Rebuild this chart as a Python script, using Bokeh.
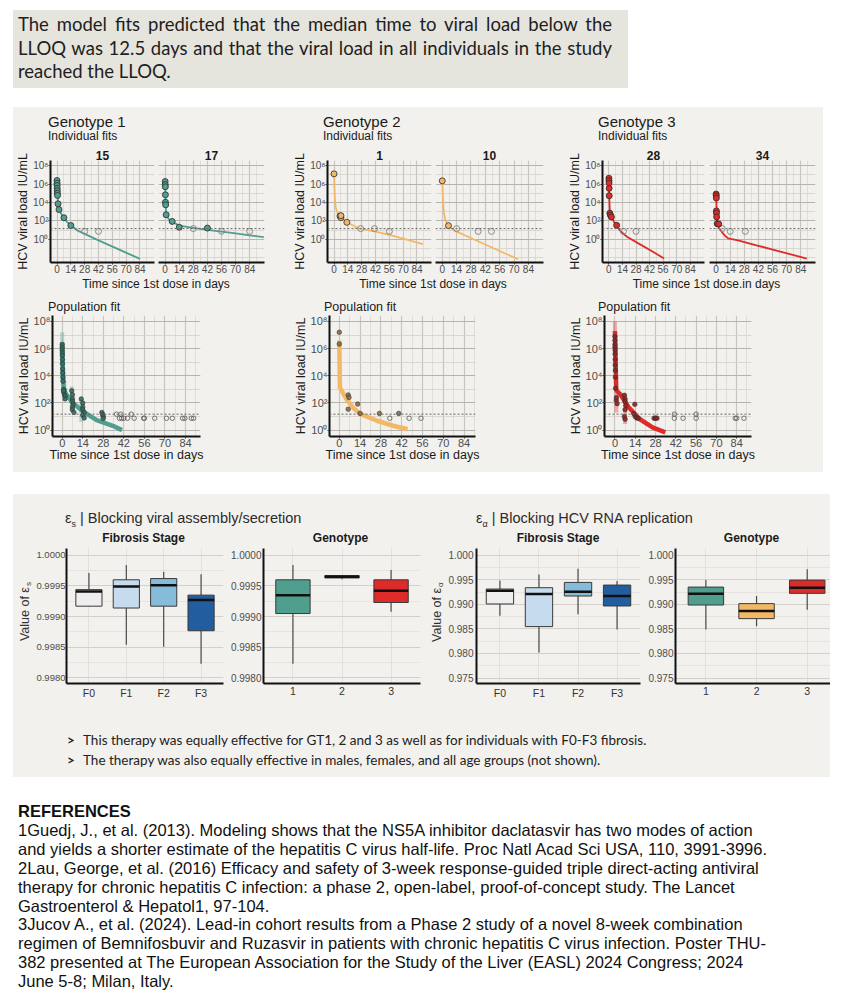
import math
from bokeh.plotting import figure
from bokeh.layouts import row, column
from bokeh.models import (Range1d, FixedTicker, CustomJSTickFormatter, PrintfTickFormatter,
                          Span, Div, Spacer, Label, Title)
from bokeh.embed import file_html
from bokeh.resources import INLINE

# ------------------------------------------------------------------ data
day_ticks = [0, 14, 28, 42, 56, 70, 84]
day_minor = [7, 21, 35, 49, 63, 77, 91]
vl_ticks = [1, 1e2, 1e4, 1e6, 1e8]
vl_minor = [1e-2, 1e-1, 10, 1e3, 1e5, 1e7]
lloq = 15

# Genotype 1, subject 15
g1_s15_obs_day = [0, 0.04, 0.08, 0.17, 0.25, 0.33, 0.5, 1, 2, 7, 14]
g1_s15_obs_vl = [2.4e6, 1.23e6, 6.9e5, 3.5e5, 1.86e5, 1.0e5, 5.8e4, 7.2e3, 1.74e3, 224, 32]
g1_s15_bql_day = [28, 42]
g1_s15_bql_vl = [7.5, 7.5]
g1_s15_fit_day = [0, 0.5, 1, 2, 4, 7, 10, 14, 21, 42, 63, 84]
g1_s15_fit_vl = [3.2e6, 1.0e5, 7.9e3, 2.0e3, 630, 200, 79, 35, 8.9, 0.79, 0.079, 0.0079]
# Genotype 1, subject 17
g1_s17_obs_day = [0, 0.08, 0.17, 0.25, 0.33, 0.5, 1, 7, 14, 42]
g1_s17_obs_vl = [1.86e6, 8.9e5, 5.0e5, 6.8e4, 1.07e4, 5.6e3, 470, 89, 21, 17]
g1_s17_bql_day = [28, 56, 84]
g1_s17_bql_vl = [15, 7.5, 7.5]
g1_s17_fit_day = [0, 0.25, 0.5, 1, 2, 4, 7, 14, 28, 42, 56, 70, 84, 98]
g1_s17_fit_vl = [2.5e6, 7.9e4, 6.3e3, 630, 282, 141, 79, 32, 18, 11, 7.1, 4.5, 2.8, 1.8]
# Genotype 2, subject 1
g2_s1_obs_day = [0, 6, 7, 7, 13]
g2_s1_obs_vl = [1.26e7, 347, 229, 372, 71]
g2_s1_bql_day = [27, 41, 56]
g2_s1_bql_vl = [15, 15, 7.5]
g2_s1_fit_day = [0, 0.5, 1, 1.6, 3, 6, 10, 14, 25, 42, 56, 70, 90]
g2_s1_fit_vl = [1.6e7, 3.2e5, 1.6e4, 3.5e3, 1.0e3, 400, 141, 63, 16, 7.1, 3.2, 1.26, 0.32]
# Genotype 2, subject 10
g2_s10_obs_day = [0, 6]
g2_s10_obs_vl = [2.2e6, 31]
g2_s10_bql_day = [14, 35, 48]
g2_s10_bql_vl = [15, 7.5, 7.5]
g2_s10_fit_day = [0, 0.5, 1, 1.6, 3, 5.7, 8, 12, 30, 50, 74]
g2_s10_fit_vl = [2.8e6, 1.0e5, 5.0e3, 794, 126, 36, 18, 8.9, 1.12, 0.112, 0.0071]
# Genotype 3, subject 28
g3_s28_obs_day = [0, 0.08, 0.17, 0.25, 0.33, 1, 1.6, 2.6, 8]
g3_s28_obs_vl = [4.2e6, 2.3e6, 1.29e6, 3.4e5, 5.4e4, 690, 417, 275, 34]
g3_s28_bql_day = [15, 28]
g3_s28_bql_vl = [7.5, 7.5]
g3_s28_fit_day = [0, 0.3, 0.6, 1, 2.5, 5, 8, 12.8, 19, 30, 45, 57]
g3_s28_fit_vl = [5.0e6, 2.5e5, 1.0e4, 1.0e3, 316, 89, 28, 6.3, 1.86, 0.4, 0.05, 0.0085]
# Genotype 3, subject 34
g3_s34_obs_day = [0, 0.08, 0.17, 0.25, 0.33, 0.5, 1, 2.6]
g3_s34_obs_vl = [8.1e4, 5.4e4, 3.0e4, 1230, 690, 275, 51, 47]
g3_s34_bql_day = [6, 14, 29]
g3_s34_bql_vl = [15, 7.5, 7.5]
g3_s34_fit_day = [0, 0.3, 0.6, 1, 3, 5.7, 9, 12, 21.7, 40, 60, 90]
g3_s34_fit_vl = [1.0e5, 6.3e3, 400, 56, 16, 6.3, 2.4, 1.29, 0.78, 0.23, 0.063, 0.0085]

# Population fits
g1_pop_obs_day = [0, 0, 0, 0.1, 0.1, 0.2, 0.2, 0.3, 0.4, 0.5, 0.6, 1, 1, 1.5, 2, 2, 1,
                  6.5, 7, 7, 7, 7.5, 7, 7, 8, 13, 14, 14, 14, 15, 14, 15, 27, 27.5, 28, 28]
g1_pop_obs_vl = [2.0e6, 1.26e6, 7.9e5, 5.0e5, 3.2e5, 1.6e5, 7.9e4, 3.2e4, 1.6e4, 7.9e3, 4.0e3,
                 1000, 630, 400, 316, 200, 794, 794, 400, 200, 126, 79, 50, 32, 20,
                 200, 100, 50, 32, 20, 12.6, 7.9, 20, 14, 10, 7.2]
g1_pop_bql_day = [37, 40, 47, 39, 40.5, 42, 44.5, 49, 55.5, 56, 63, 71, 75, 82, 83.5, 88, 89.5]
g1_pop_bql_vl = [15, 15, 15, 7.5, 7.5, 7.5, 7.5, 7.5, 7.5, 7.5, 7.5, 7.5, 7.5, 7.5, 7.5, 7.5, 7.5]
g1_pop_band_day = [0, 1.5, 6.5, 13, 27.5]
g1_pop_band_lo = [4.0e3, 160, 25, 4, 6.3]
g1_pop_band_hi = [1.6e7, 4.0e3, 1.6e3, 200, 25]
g1_pop_fit_day = [0, 0.44, 0.9, 2.6, 7, 13.6, 23.5, 34.5, 40.7]
g1_pop_fit_vl = [2.95e6, 2.4e4, 1.41e3, 447, 110, 26, 5.4, 2.1, 1.0]

g2_pop_obs_day = [0, 0, 6, 6.5, 6, 12.4, 14, 27, 40]
g2_pop_obs_vl = [1.6e7, 2.2e6, 390, 257, 35, 83, 17, 17, 17]
g2_pop_bql_day = [34, 47, 55]
g2_pop_bql_vl = [7.5, 7.5, 7.5]
g2_pop_fit_day = [0, 0.4, 4.8, 9.1, 14.5, 25.4, 36.2, 46]
g2_pop_fit_vl = [4.0e6, 1.41e3, 195, 47, 15, 4.9, 2.1, 1.17]

g3_pop_obs_day = [0, 0, 0, 0, 0.1, 0.1, 0.2, 0.2, 0.3, 0.3, 0.4, 0.9, 1.5, 1,
                  6.5, 7, 7, 7.5, 7, 6.5, 7, 13.7, 13, 14, 15, 16, 27, 28, 29]
g3_pop_obs_vl = [7.9e6, 4.0e6, 2.0e6, 1.26e6, 7.9e5, 4.0e5, 1.6e5, 6.3e4, 2.5e4, 7.9e3,
                 1.2e3, 160, 89, 250, 370, 200, 126, 63, 32, 10, 6.3, 79, 16, 10, 7.9, 7.5,
                 7.5, 7.5, 7.5]
g3_pop_bql_day = [41, 41, 47, 56, 56, 83, 84, 89]
g3_pop_bql_vl = [15, 7.5, 7.5, 15, 7.5, 7.5, 7.5, 7.5]
g3_pop_band_day = [0, 1, 7, 28]
g3_pop_band_lo = [2.0e4, 20, 2.8, 5]
g3_pop_band_hi = [1.0e8, 630, 500, 12.6]
g3_pop_fit_day = [0, 0.9, 3.8, 9.3, 17, 25.9, 34.7]
g3_pop_fit_vl = [2.0e7, 870, 417, 50, 6.6, 1.58, 0.68]

# Box plots
fib_stages = ["F0", "F1", "F2", "F3"]
genotypes = ["1", "2", "3"]
es_ticks = [0.998, 0.9985, 0.999, 0.9995, 1.0]
es_minor = [0.99825, 0.99875, 0.99925, 0.99975]
ea_ticks = [0.975, 0.98, 0.985, 0.99, 0.995, 1.0]
ea_minor = [0.9775, 0.9825, 0.9875, 0.9925, 0.9975]

es_fib_low = [0.99917, 0.99854, 0.99851, 0.99823]
es_fib_q1 = [0.99917, 0.99914, 0.99917, 0.99877]
es_fib_med = [0.99941, 0.99949, 0.99951, 0.99927]
es_fib_q3 = [0.99944, 0.99960, 0.99962, 0.99935]
es_fib_high = [0.99971, 0.99984, 0.99973, 0.99969]

es_gt_low = [0.99823, 0.99961, 0.99908]
es_gt_q1 = [0.99905, 0.99963, 0.99923]
es_gt_med = [0.99935, 0.99965, 0.99942]
es_gt_q3 = [0.99960, 0.99967, 0.99960]
es_gt_high = [0.99984, 0.99968, 0.99976]

ea_fib_low = [0.98770, 0.98020, 0.98797, 0.98486]
ea_fib_q1 = [0.99007, 0.98547, 0.99169, 0.98966]
ea_fib_med = [0.99277, 0.99209, 0.99257, 0.99169]
ea_fib_q3 = [0.99311, 0.99338, 0.99446, 0.99392]
ea_fib_high = [0.99486, 0.99608, 0.99723, 0.99473]

ea_gt_low = [0.98486, 0.98554, 0.98892]
ea_gt_q1 = [0.98986, 0.98709, 0.99223]
ea_gt_med = [0.99216, 0.98865, 0.99338]
ea_gt_q3 = [0.99351, 0.99014, 0.99493]
ea_gt_high = [0.99493, 0.99169, 0.99716]

fib_colors = ["#eeeeee", "#c6dbee", "#84bcda", "#225e9f"]
gt_colors = ["#4f9e8e", "#f2b866", "#dd2b29"]

# ------------------------------------------------------------------ style
PANEL = "#f2f1ed"
TOPBOX = "#e5e4dd"
FONT = "Liberation Sans"
TEAL, ORANGE, RED = "#4f9e8f", "#f2b866", "#dd2b29"
DARK = {TEAL: "#2f6c61", ORANGE: "#8a6a48", RED: "#8c2222"}
IND_X = (-6.6, 98.7)
IND_Y = (3.2e-3, 3.5e8)

LOG_CODE = """
const sup = {"0":"\u2070","1":"\u00b9","2":"\u00b2","3":"\u00b3","4":"\u2074","5":"\u2075",
             "6":"\u2076","7":"\u2077","8":"\u2078","9":"\u2079","-":"\u207b"};
const e = Math.round(Math.log10(tick));
return "10" + String(e).split("").map(c => sup[c]).join("");
"""


def style_axes(p, tick_px):
    for ax in p.axis:
        ax.axis_line_width = 2
        ax.axis_line_color = "#111111"
        ax.major_tick_out = 2
        ax.major_tick_in = 0
        ax.major_tick_line_color = "#333333"
        ax.minor_tick_out = 0
        ax.minor_tick_in = 0
        ax.major_label_text_font = FONT
        ax.major_label_text_font_size = tick_px
        ax.major_label_text_color = "#4d4d4d"
        ax.major_label_standoff = 0
        ax.axis_label_text_font = FONT
        ax.axis_label_text_font_size = "12.5px"
        ax.axis_label_text_font_style = "normal"
        ax.axis_label_text_color = "#1a1a1a"
        ax.axis_label_standoff = 0


def vl_fig(w, h, mbl, mbr, mbt, mbb, xr, yr, show_y, tick_px):
    p = figure(width=w, height=h, title=None, x_range=Range1d(*xr), y_range=Range1d(*yr),
               y_axis_type="log", y_axis_location="left" if show_y else None,
               output_backend="svg", toolbar_location=None,
               min_border_left=mbl, min_border_right=mbr, min_border_top=mbt, min_border_bottom=mbb,
               background_fill_color=PANEL, border_fill_color=PANEL, outline_line_color=None)
    p.xaxis.ticker = FixedTicker(ticks=day_ticks)
    p.xgrid.ticker = FixedTicker(ticks=day_ticks, minor_ticks=day_minor)
    p.ygrid.ticker = FixedTicker(ticks=vl_ticks, minor_ticks=vl_minor)
    p.xgrid.grid_line_color = "#c9c6c1"
    p.xgrid.grid_line_width = 1.2
    p.xgrid.minor_grid_line_color = "#dcd9d4"
    p.xgrid.minor_grid_line_width = 0.8
    p.ygrid.grid_line_color = "#b7b4af"
    p.ygrid.grid_line_width = 1.2
    p.ygrid.minor_grid_line_color = "#d3d0cb"
    p.ygrid.minor_grid_line_width = 0.8
    if show_y:
        p.yaxis.ticker = FixedTicker(ticks=vl_ticks)
        p.yaxis.formatter = CustomJSTickFormatter(code=LOG_CODE)
        p.yaxis.axis_label = "HCV viral load IU/mL"
    style_axes(p, tick_px)
    p.add_layout(Span(location=lloq, dimension="width", line_color="#666666",
                      line_dash="2 2", line_width=1))
    return p


def strip_title(p, text):
    p.add_layout(Title(text=text, align="center", text_font=FONT, text_font_size="12px",
                       text_font_style="bold", text_color="#1a1a1a", standoff=2, offset=0),
                 "above")


def draw_subject(p, color, obs_d, obs_v, bql_d, bql_v, fit_d, fit_v):
    p.line(fit_d, fit_v, line_color=color, line_width=1.8)
    p.scatter(bql_d, bql_v, size=6, fill_color=None, line_color="#8c8c8c", line_width=1)
    p.scatter(obs_d, obs_v, size=6, fill_color=color, line_color="#2a2a2a", line_width=0.8)


def draw_pop(p, color, obs_d, obs_v, bql_d, bql_v, fit_d, fit_v, band=None):
    if band is not None:
        bd, blo, bhi = band
        p.segment(bd, blo, bd, bhi, line_color=color, line_width=4, line_alpha=0.35)
    p.line(fit_d, fit_v, line_color=color, line_width=4.5)
    p.scatter(bql_d, bql_v, size=4.5, fill_color=None, line_color="#555555", line_width=0.8)
    p.scatter(obs_d, obs_v, size=4.5, fill_color=DARK[color], line_color="#333333",
              line_width=0.6, fill_alpha=0.9)


def div(html, w, h, bg=None):
    styles = {"background-color": bg} if bg else {}
    return Div(text=html, width=w, height=h, margin=0, styles=styles)


def sp(w=0, h=0):
    return Spacer(width=w, height=h, margin=0)


FF = "font-family:'Liberation Sans'; color:#1a1a1a; white-space:nowrap;"


def genotype_group(gw, mbl, fw, gap, title, labels, color, subjects, xtitle,
                   pop_fw, pop_mbl, pop_xr, pop, band=None):
    rest = gw - mbl - 2 * fw - gap
    head = div(f'<div style="{FF} padding:7px 0 0 {mbl}px;">'
               f'<div style="font-size:15px; line-height:16px;">{title}</div>'
               f'<div style="font-size:12px; line-height:13px;">Individual fits</div></div>',
               gw, 37)
    left = vl_fig(mbl + fw + 2, 132, mbl, 2, 16, 14, IND_X, IND_Y, True, "10px")
    right = vl_fig(gap - 2 + fw + rest, 132, gap - 2, rest, 16, 14, IND_X, IND_Y, False, "10px")
    strip_title(left, labels[0])
    strip_title(right, labels[1])
    draw_subject(left, color, *subjects[0])
    draw_subject(right, color, *subjects[1])
    span_w = 2 * fw + gap
    xt_css = f'{FF} font-size:12px; line-height:10px; text-align:center; width:{span_w}px;'
    xt = row(sp(mbl, 14), div(f'<div style="{xt_css}">{xtitle}</div>', span_w, 14),
             sp(rest, 14))
    pop_head = div(f'<div style="{FF} font-size:12.5px; line-height:14px; '
                   f'padding:10px 0 0 {pop_mbl}px;">Population fit</div>', gw, 24)
    pf = vl_fig(gw, 158, pop_mbl, gw - pop_mbl - pop_fw, 1, 36, pop_xr, (0.34, 2.75e8), True,
                "11px")
    pf.xaxis.axis_label = "Time since 1st dose in days"
    pf.xaxis.axis_label_standoff = -2
    draw_pop(pf, color, *pop, band=band)
    return column(head, row(left, right), xt, pop_head, pf)


g1 = genotype_group(277, 35, 106, 4, "Genotype 1", ["15", "17"], TEAL,
                    [(g1_s15_obs_day, g1_s15_obs_vl, g1_s15_bql_day, g1_s15_bql_vl,
                      g1_s15_fit_day, g1_s15_fit_vl),
                     (g1_s17_obs_day, g1_s17_obs_vl, g1_s17_bql_day, g1_s17_bql_vl,
                      g1_s17_fit_day, g1_s17_fit_vl)],
                    "Time since 1st dose in days", 152, 35, (-6.6, 94.2),
                    (g1_pop_obs_day, g1_pop_obs_vl, g1_pop_bql_day, g1_pop_bql_vl,
                     g1_pop_fit_day, g1_pop_fit_vl),
                    band=(g1_pop_band_day, g1_pop_band_lo, g1_pop_band_hi))
g2 = genotype_group(275, 33, 108, 4, "Genotype 2", ["1", "10"], ORANGE,
                    [(g2_s1_obs_day, g2_s1_obs_vl, g2_s1_bql_day, g2_s1_bql_vl,
                      g2_s1_fit_day, g2_s1_fit_vl),
                     (g2_s10_obs_day, g2_s10_obs_vl, g2_s10_bql_day, g2_s10_bql_vl,
                      g2_s10_fit_day, g2_s10_fit_vl)],
                    "Time since 1st dose in days", 151, 34, (-6.6, 91.7),
                    (g2_pop_obs_day, g2_pop_obs_vl, g2_pop_bql_day, g2_pop_bql_vl,
                     g2_pop_fit_day, g2_pop_fit_vl))
g3 = genotype_group(258, 33, 106, 5, "Genotype 3", ["28", "34"], RED,
                    [(g3_s28_obs_day, g3_s28_obs_vl, g3_s28_bql_day, g3_s28_bql_vl,
                      g3_s28_fit_day, g3_s28_fit_vl),
                     (g3_s34_obs_day, g3_s34_obs_vl, g3_s34_bql_day, g3_s34_bql_vl,
                      g3_s34_fit_day, g3_s34_fit_vl)],
                    "Time since 1st dose.in days", 153, 33, (-7.2, 94.2),
                    (g3_pop_obs_day, g3_pop_obs_vl, g3_pop_bql_day, g3_pop_bql_vl,
                     g3_pop_fit_day, g3_pop_fit_vl),
                    band=(g3_pop_band_day, g3_pop_band_lo, g3_pop_band_hi))
panel1 = row(g1, g2, g3, styles={"background-color": PANEL})


# ------------------------------------------------------------------ box plots
def box_fig(w, mbl, mbr, cats, x_end, yr, yticks, yminor, fmt, low, q1, med, q3, high, colors,
            ytick_px="10px", ystandoff=2):
    pos = list(range(len(cats)))
    p = figure(width=w, height=154, title=None, x_range=Range1d(-0.6, x_end),
               y_range=Range1d(*yr), output_backend="svg", toolbar_location=None,
               min_border_left=mbl, min_border_right=mbr, min_border_top=1,
               min_border_bottom=18, background_fill_color=PANEL, border_fill_color=PANEL,
               outline_line_color=None)
    p.xaxis.ticker = FixedTicker(ticks=pos)
    p.xaxis.formatter = CustomJSTickFormatter(args=dict(labels=cats),
                                              code="return labels[Math.round(tick)];")
    p.xgrid.ticker = FixedTicker(ticks=pos)
    p.yaxis.ticker = FixedTicker(ticks=yticks, minor_ticks=yminor)
    p.ygrid.ticker = FixedTicker(ticks=yticks, minor_ticks=yminor)
    p.yaxis.formatter = PrintfTickFormatter(format=fmt)
    p.xgrid.grid_line_color = "#e2e0dc"
    p.xgrid.grid_line_width = 1
    p.ygrid.grid_line_color = "#d3d0cc"
    p.ygrid.grid_line_width = 1
    p.ygrid.minor_grid_line_color = "#e2e0dc"
    p.ygrid.minor_grid_line_width = 0.8
    style_axes(p, "10px")
    for ax in p.axis:
        ax.major_tick_out = 0
    p.yaxis.major_label_standoff = ystandoff
    p.yaxis.major_label_text_font_size = ytick_px
    p.xaxis.major_label_standoff = 3
    p.xaxis.major_label_text_font_size = "10.5px"
    p.xaxis.major_label_text_color = "#333333"
    p.segment(pos, q3, pos, high, line_color="#4a4a4a", line_width=1.2)
    p.segment(pos, low, pos, q1, line_color="#4a4a4a", line_width=1.2)
    p.vbar(x=pos, width=0.7, bottom=q1, top=q3, fill_color=colors, line_color="#3a3a3a",
           line_width=1)
    p.segment([x - 0.35 for x in pos], med, [x + 0.35 for x in pos], med,
              line_color="#111111", line_width=2.5)
    return p


def ylabel_fig(w, h, xc, y_end, sub):
    # narrow strip holding the rotated y-axis title "Value of ε" with its subscript
    p = figure(width=w, height=h, title=None, x_range=Range1d(0, w), y_range=Range1d(0, h),
               output_backend="svg", toolbar_location=None, min_border=0,
               x_axis_location=None, y_axis_location=None,
               background_fill_color=PANEL, border_fill_color=PANEL, outline_line_color=None)
    p.grid.visible = False
    p.add_layout(Label(x=xc, y=y_end, text="Value of \u03b5", angle=math.pi / 2,
                       text_align="right", text_baseline="middle", text_font=FONT,
                       text_font_size="12.5px", text_color="#333333"))
    p.add_layout(Label(x=xc, y=y_end, x_offset=3.5, y_offset=1, text=sub, angle=math.pi / 2,
                       text_align="left", text_baseline="middle", text_font=FONT,
                       text_font_size="8px", text_color="#333333"))
    return p


ls1 = ylabel_fig(20, 154, 11.5, 110, "s")
bs1 = box_fig(194, 31, 4, fib_stages, 3.6, (0.99791, 1.00011), es_ticks, es_minor, "%.4f",
              es_fib_low, es_fib_q1, es_fib_med, es_fib_q3, es_fib_high, fib_colors,
              ytick_px="9.5px", ystandoff=1)
bs2 = box_fig(198, 34, 5, genotypes, 2.6, (0.99791, 1.00011), es_ticks, es_minor, "%.4f",
              es_gt_low, es_gt_q1, es_gt_med, es_gt_q3, es_gt_high, gt_colors)
la1 = ylabel_fig(20, 154, 11.5, 109, "\u03b1")
ba1 = box_fig(200, 31, 5, fib_stages, 3.6, (0.97389, 1.00136), ea_ticks, ea_minor, "%.3f",
              ea_fib_low, ea_fib_q1, ea_fib_med, ea_fib_q3, ea_fib_high, fib_colors,
              ytick_px="10px", ystandoff=3)
ba2 = box_fig(185, 28, 0, genotypes, 2.46, (0.97389, 1.00136), ea_ticks, ea_minor, "%.3f",
              ea_gt_low, ea_gt_q1, ea_gt_med, ea_gt_q3, ea_gt_high, gt_colors)

t_css = f"{FF} font-size:14.5px; line-height:16px; color:#2b2b2b; padding-top:16px;"
titles = row(
    div(f'<div style="{t_css} padding-left:52px;">\u03b5<sub style="font-size:9px;">s</sub>'
        f' | Blocking viral assembly/secretion</div>', 412, 36),
    div(f'<div style="{t_css} padding-left:51px;">\u03b5<sub style="font-size:9px;">\u03b1</sub>'
        f' | Blocking HCV RNA replication</div>', 405, 36))


def strip_div(text, w):
    css = f"{FF} font-size:12px; font-weight:bold; line-height:17px; text-align:center; width:{w}px;"
    return div(f'<div style="{css}">{text}</div>', w, 17)


strips2 = row(sp(51, 17), strip_div("Fibrosis Stage", 159), sp(38, 17), strip_div("Genotype", 159),
              sp(56, 17), strip_div("Fibrosis Stage", 164), sp(33, 17), strip_div("Genotype", 157))
b_css = "display:inline-block; width:16px; font-weight:bold;"
bullets = div(
    '<div style="font-family:Lato; font-size:13.5px; line-height:20px; color:#222222; '
    'padding:29px 0 0 54px; white-space:nowrap;">'
    f'<div><span style="{b_css}">&gt;</span>This therapy was equally effective for GT1, 2 and 3 '
    'as well as for individuals with F0-F3 fibrosis.</div>'
    f'<div><span style="{b_css}">&gt;</span>The therapy was also equally effective in males, '
    'females, and all age groups (not shown).</div></div>', 817, 76)
panel2 = column(titles, strips2, row(ls1, bs1, bs2, la1, ba1, ba2), bullets,
                styles={"background-color": PANEL})

# ------------------------------------------------------------------ texts
j_css = "text-align:justify; text-align-last:justify; white-space:nowrap;"
top_box = div(
    '<div style="font-family:Lato; font-size:18.5px; line-height:23.5px; color:#1e1e1e; '
    'padding:3px 0 0 5px; width:599px;">'
    f'<div style="{j_css}">The model fits predicted that the median time to viral load below the</div>'
    f'<div style="{j_css}">LLOQ was 12.5 days and that the viral load in all individuals in the study</div>'
    '<div style="white-space:nowrap;">reached the LLOQ.</div></div>', 615, 78, bg=TOPBOX)

refs = div(
    '<div style="font-family:\'Liberation Sans\'; font-size:16.5px; line-height:18.9px; '
    'color:#111111; padding:25px 0 0 18px; white-space:nowrap;">'
    '<b>REFERENCES</b><br>'
    '1Guedj, J., et al. (2013). Modeling shows that the NS5A inhibitor daclatasvir has two modes of action<br>'
    'and yields a shorter estimate of the hepatitis C virus half-life. Proc Natl Acad Sci USA, 110, 3991-3996.<br>'
    '2Lau, George, et al. (2016) Efficacy and safety of 3-week response-guided triple direct-acting antiviral<br>'
    'therapy for chronic hepatitis C infection: a phase 2, open-label, proof-of-concept study. The Lancet<br>'
    'Gastroenterol &amp; Hepatol1, 97-104.<br>'
    '3Jucov A., et al. (2024). Lead-in cohort results from a Phase 2 study of a novel 8-week combination<br>'
    'regimen of Bemnifosbuvir and Ruzasvir in patients with chronic hepatitis C virus infection. Poster THU-<br>'
    '382 presented at The European Association for the Study of the Liver (EASL) 2024 Congress; 2024<br>'
    'June 5-8; Milan, Italy.</div>', 859, 231)

page = column(sp(859, 10), row(sp(13, 78), top_box), sp(859, 19),
              row(sp(13, 365), panel1), sp(859, 22), row(sp(13, 283), panel2), refs)

open("out.html", "w").write(file_html(page, INLINE))
